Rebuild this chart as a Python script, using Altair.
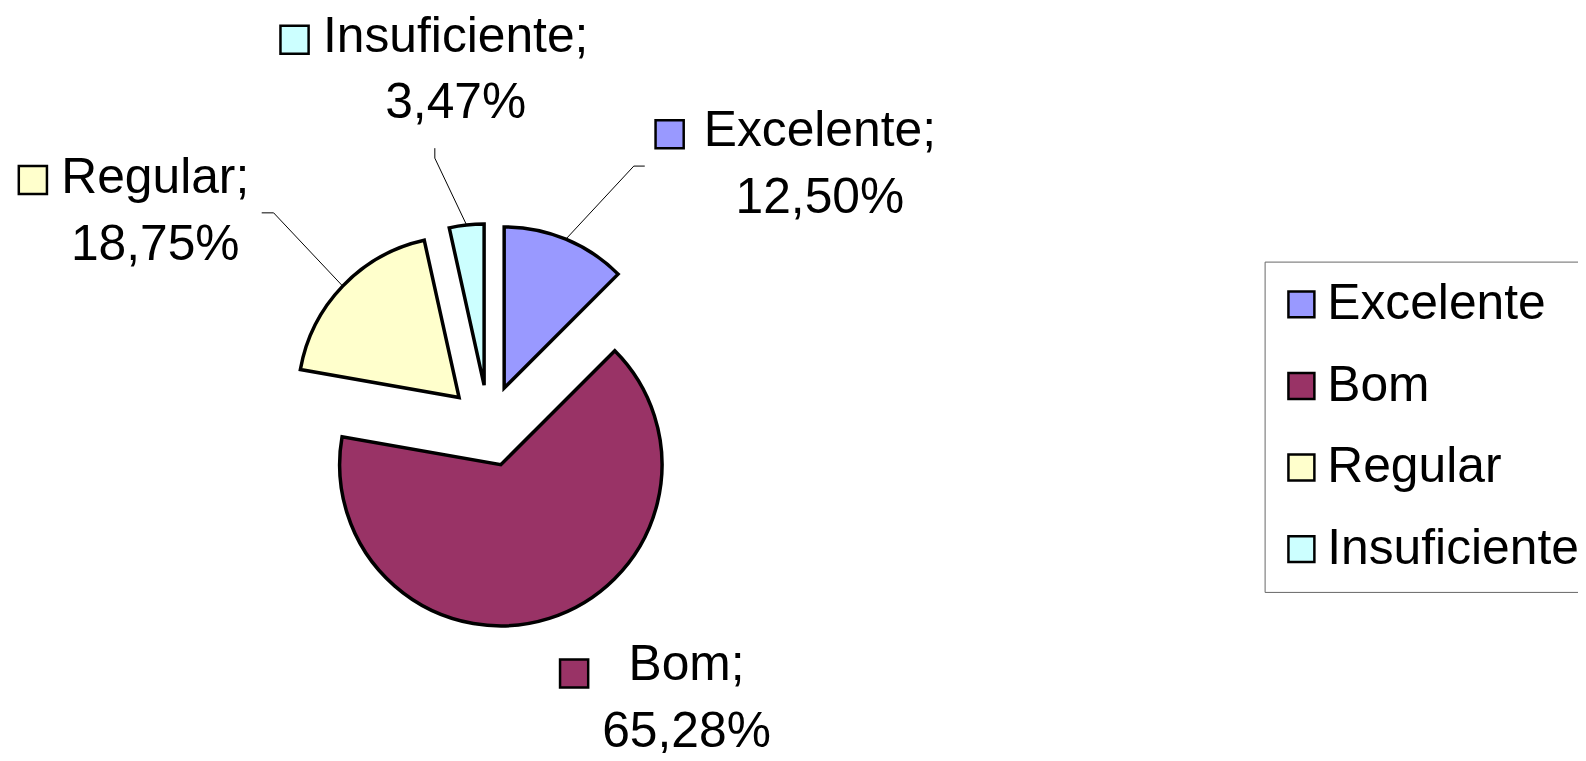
import math
import altair as alt
import pandas as pd

# ---- data ----
categories = ["Excelente", "Bom", "Regular", "Insuficiente"]
values = [12.50, 65.28, 18.75, 3.47]
colors = ["#9999FF", "#993366", "#FFFFCC", "#CCFFFF"]

# ---- layout (pixels, plot coordinates) ----
CX, CY = 483, 418        # pie centre
R = 162                  # pie radius
EXPLODE = 41             # explosion distance
FONT = "Liberation Sans"
FS = 50
LINE_H = 67

label_layout = {
    # text centre x, baseline of first line, key square centre
    "Insuficiente": dict(lx=450, ly=42, bx=288, by=30),
    "Excelente": dict(lx=816, ly=137, bx=665, by=125),
    "Regular": dict(lx=148, ly=184, bx=25, by=171),
    "Bom": dict(lx=682, ly=674, bx=569, by=667),
}
leader_layout = {
    "Insuficiente": [(429, 139), (429, 149)],
    "Excelente": [(640, 157), (629, 157)],
    "Regular": [(255, 204), (267, 204)],
}

# ---- geometry derived from the values ----
total = sum(values)
rows = []
acc = 0.0
mids = {}
for c, v in zip(categories, values):
    t0 = acc / total * 2 * math.pi
    acc += v
    t1 = acc / total * 2 * math.pi
    m = (t0 + t1) / 2
    mids[c] = m
    rows.append(dict(cat=c, t0=t0, t1=t1,
                     px=CX + EXPLODE * math.sin(m),
                     py=CY - EXPLODE * math.cos(m)))
arcs = pd.DataFrame(rows)

lab_rows = []
for c, v in zip(categories, values):
    L = label_layout[c]
    pct = f"{v:.2f}".replace(".", ",") + "%"
    lab_rows.append(dict(cat=c, text=f"{c};\n{pct}", lx=L["lx"], ly=L["ly"],
                         bx=L["bx"], by=L["by"]))
labels = pd.DataFrame(lab_rows)

lead_rows = []
for c, pts in leader_layout.items():
    m = mids[c]
    end = (CX + (EXPLODE + R) * math.sin(m), CY - (EXPLODE + R) * math.cos(m))
    for i, (x, y) in enumerate(pts + [end]):
        lead_rows.append(dict(cat=c, o=i, x=x, y=y))
leaders = pd.DataFrame(lead_rows)

color_scale = alt.Scale(domain=categories, range=colors)

pie = alt.Chart(arcs).mark_arc(
    outerRadius=R, stroke="black", strokeWidth=3.5, strokeJoin="miter"
).encode(
    theta=alt.Theta("t0:Q", scale=None),
    theta2="t1:Q",
    x=alt.X("px:Q", scale=None, axis=None),
    y=alt.Y("py:Q", scale=None, axis=None),
    color=alt.Color(
        "cat:N", scale=color_scale, sort=categories,
        legend=alt.Legend(
            title=None, orient="none", legendX=1263, legendY=253,
            symbolType="square", symbolSize=680, symbolStrokeColor="black",
            symbolStrokeWidth=2.5, symbolOpacity=1, symbolOffset=-6,
            labelFont=FONT, labelFontSize=FS, labelColor="black",
            labelOffset=1, labelLimit=0, rowPadding=32, padding=18,
            strokeColor="#666666", fillColor="white",
        ),
    ),
)

lead = alt.Chart(leaders).mark_line(color="black", strokeWidth=1).encode(
    x=alt.X("x:Q", scale=None, axis=None),
    y=alt.Y("y:Q", scale=None, axis=None),
    detail="cat:N",
    order="o:Q",
)

text = alt.Chart(labels).mark_text(
    font=FONT, fontSize=FS, align="center", baseline="alphabetic",
    lineBreak="\n", lineHeight=LINE_H, color="black",
).encode(
    x=alt.X("lx:Q", scale=None, axis=None),
    y=alt.Y("ly:Q", scale=None, axis=None),
    text="text:N",
)

keys = alt.Chart(labels).mark_square(
    size=800, opacity=1, stroke="black", strokeWidth=2.5, filled=True
).encode(
    x=alt.X("bx:Q", scale=None, axis=None),
    y=alt.Y("by:Q", scale=None, axis=None),
    fill=alt.Fill("cat:N", scale=color_scale, legend=None),
)

chart = alt.layer(lead, pie, text, keys).properties(
    width=1578, height=745, padding=0, autosize=alt.AutoSizeParams(type="none")
).configure(background="white").configure_view(stroke="transparent", strokeWidth=0)

chart.save("out.html", embed_options={"renderer": "svg", "actions": False})
